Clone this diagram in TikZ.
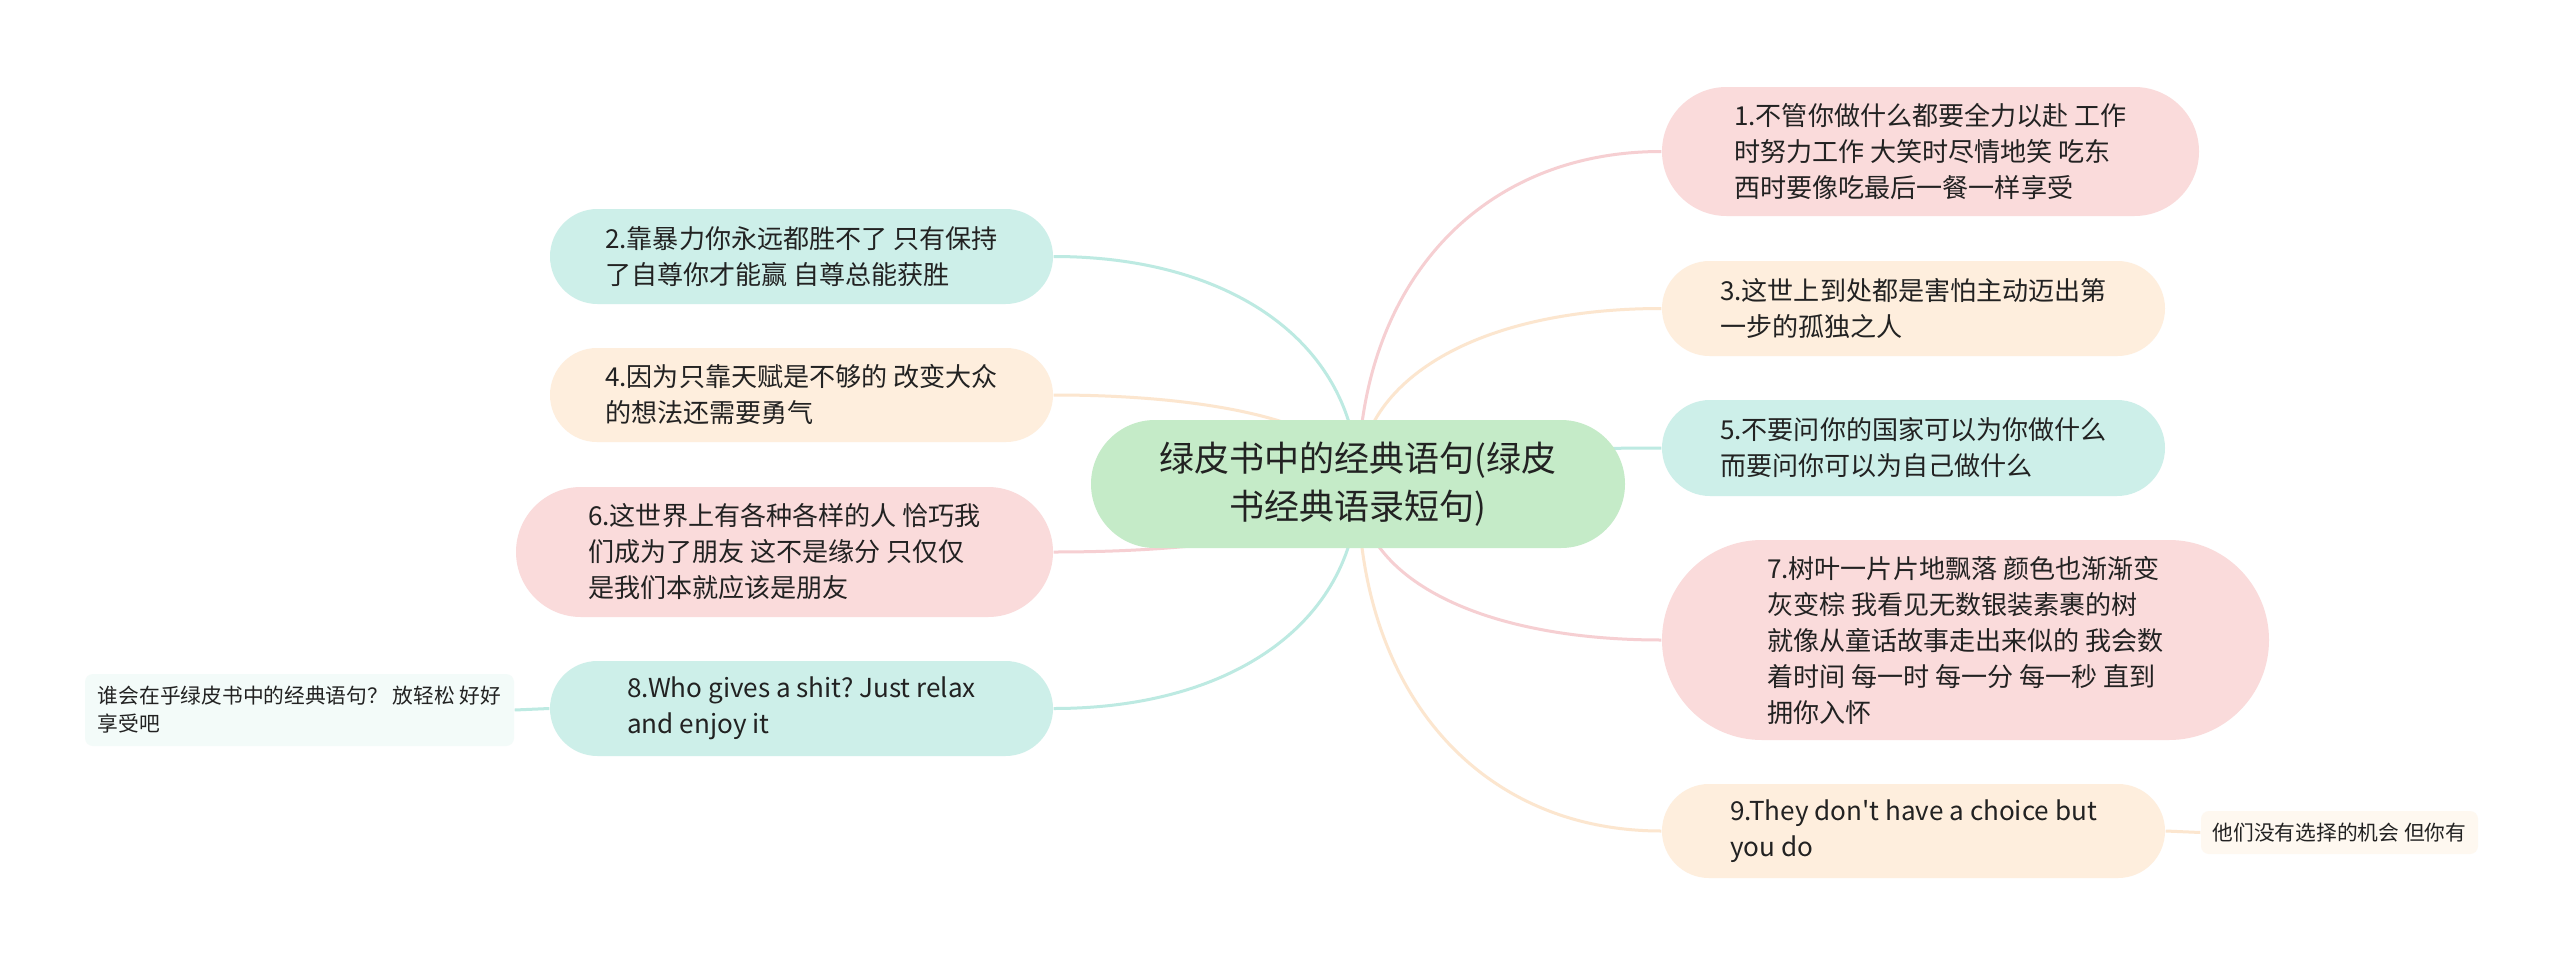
\documentclass[tikz,border=0pt]{standalone}
\usepackage{fontspec}
\setmainfont{Noto Sans CJK SC}[Ligatures=TeXOff]
\frenchspacing
\usetikzlibrary{calc,backgrounds}
\definecolor{txt}{HTML}{222222}
\definecolor{pinkf}{HTML}{FADBDB}
\definecolor{cyanf}{HTML}{CDEFE9}
\definecolor{peachf}{HTML}{FEEEDD}
\definecolor{greenf}{HTML}{C5EBC8}
\definecolor{pinkl}{HTML}{F6CFD2}
\definecolor{cyanl}{HTML}{BDEAE2}
\definecolor{peachl}{HTML}{FCE6CF}
\definecolor{cyans}{HTML}{F3FBF9}
\definecolor{peachs}{HTML}{FEF8F0}
\tikzset{
  mmbox/.style={text=txt, align=left, inner sep=0pt,
    font=\fontsize{7.42pt}{10.24pt}\selectfont\frenchspacing},
  mmroot/.style={text=txt, align=center, inner sep=0pt, fill=greenf,
    font=\fontsize{9.96pt}{13.66pt}\selectfont},
  mmsub/.style={text=txt, align=left, inner sep=0pt, rounded corners=0.08cm,
    font=\fontsize{5.9pt}{7.97pt}\selectfont},
  mmline/.style={line width=0.03cm},
}
\newcommand\mmlink[3]{\draw[mmline,#3] (#1.center) .. controls ($(#1.center)!0.6!(#1.center |- #2)$) and ($(#2)!0.6!(#1.center |- #2)$) .. (#2);}
\begin{document}
\begin{tikzpicture}
\path[use as bounding box] (0,0) rectangle (25.6,-9.67);
% root
\node[mmroot, minimum width=5.34cm, minimum height=1.28cm, rounded corners=0.64cm] (root) at (13.58,-4.84) {绿皮书中的经典语句(绿皮\\书经典语录短句)};
% right side
\node[mmbox, fill=pinkf, minimum width=5.37cm, minimum height=1.29cm, rounded corners=0.645cm] (n1) at (19.305,-1.515) {1.不管你做什么都要全力以赴 工作\\时努力工作 大笑时尽情地笑 吃东\\西时要像吃最后一餐一样享受};
\node[mmbox, fill=peachf, minimum width=5.03cm, minimum height=0.95cm, rounded corners=0.475cm] (n3) at (19.135,-3.085) {3.这世上到处都是害怕主动迈出第\\一步的孤独之人};
\node[mmbox, fill=cyanf, minimum width=5.03cm, minimum height=0.96cm, rounded corners=0.48cm] (n5) at (19.135,-4.48) {5.不要问你的国家可以为你做什么\\而要问你可以为自己做什么};
\node[mmbox, fill=pinkf, minimum width=6.07cm, minimum height=2.00cm, rounded corners=1.0cm] (n7) at (19.655,-6.40) {7.树叶一片片地飘落 颜色也渐渐变\\灰变棕 我看见无数银装素裹的树\\就像从童话故事走出来似的 我会数\\着时间 每一时 每一分 每一秒 直到\\拥你入怀};
\node[mmbox, fill=peachf, minimum width=5.03cm, minimum height=0.94cm, rounded corners=0.47cm] (n9) at (19.135,-8.31) {9.They don't have a choice but\\you do};
\node[mmsub, fill=peachs, minimum width=2.77cm, minimum height=0.43cm] (s9) at (23.395,-8.325) {他们没有选择的机会 但你有};
% left side
\node[mmbox, fill=cyanf, minimum width=5.03cm, minimum height=0.95cm, rounded corners=0.475cm] (n2) at (8.015,-2.565) {2.靠暴力你永远都胜不了 只有保持\\了自尊你才能赢 自尊总能获胜};
\node[mmbox, fill=peachf, minimum width=5.03cm, minimum height=0.94cm, rounded corners=0.47cm] (n4) at (8.015,-3.95) {4.因为只靠天赋是不够的 改变大众\\的想法还需要勇气};
\node[mmbox, fill=pinkf, minimum width=5.37cm, minimum height=1.30cm, rounded corners=0.65cm] (n6) at (7.845,-5.52) {6.这世界上有各种各样的人 恰巧我\\们成为了朋友 这不是缘分 只仅仅\\是我们本就应该是朋友};
\node[mmbox, fill=cyanf, minimum width=5.03cm, minimum height=0.95cm, rounded corners=0.475cm] (n8) at (8.015,-7.085) {8.Who gives a shit? Just relax\\and enjoy it};
\node[mmsub, fill=cyans, minimum width=4.29cm, minimum height=0.72cm] (s8) at (2.995,-7.10) {谁会在乎绿皮书中的经典语句？ 放轻松 好好\\享受吧};
\begin{scope}[on background layer]
\fill[white] (0,0) rectangle (25.6,-9.67);
\mmlink{root}{n1.west}{pinkl}
\mmlink{root}{n3.west}{peachl}
\mmlink{root}{n5.west}{cyanl}
\mmlink{root}{n7.west}{pinkl}
\mmlink{root}{n9.west}{peachl}
\mmlink{root}{n2.east}{cyanl}
\mmlink{root}{n4.east}{peachl}
\mmlink{root}{n6.east}{pinkl}
\mmlink{root}{n8.east}{cyanl}
\draw[mmline, peachl] (n9.east) -- (s9.west);
\draw[mmline, cyanl] (n8.west) -- (s8.east);
\end{scope}
\end{tikzpicture}
\end{document}
